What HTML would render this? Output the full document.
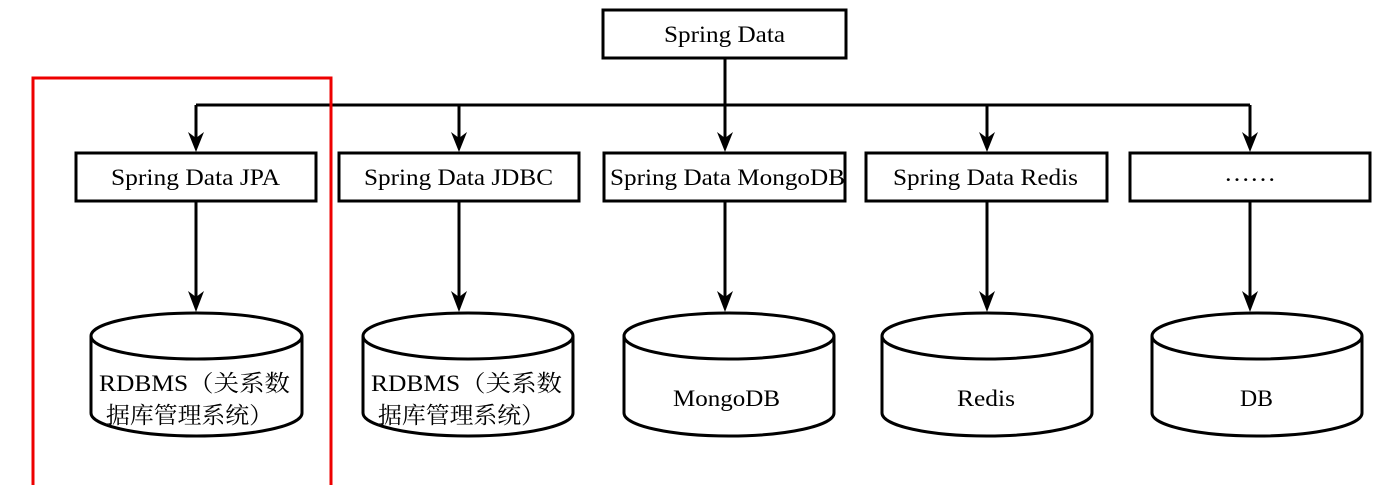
<!DOCTYPE html>
<html><head><meta charset="utf-8"><style>
html,body{margin:0;padding:0;background:#fff;}
svg{display:block;}
text{font-family:"Liberation Serif","Noto Serif CJK SC",serif;font-size:23px;fill:#000;}
</style></head><body>
<svg width="1389" height="485" viewBox="0 0 1389 485" xmlns="http://www.w3.org/2000/svg">
<g stroke="#000" stroke-width="3" fill="none">
<rect x="603" y="10" width="243" height="48" fill="#fff"/>
<path d="M725,58 V105 M196,105 H1250"/>
<path d="M196,105 V140 M459,105 V140 M725,105 V140 M987,105 V140 M1250,105 V140"/>
<rect x="76" y="153" width="240" height="48"/>
<rect x="339" y="153" width="240" height="48"/>
<rect x="604" y="153" width="241" height="48"/>
<rect x="866" y="153" width="241" height="48"/>
<rect x="1130" y="153" width="240" height="48"/>
<path d="M196,201 V298 M459,201 V298 M725,201 V298 M987,201 V298 M1250,201 V298"/>
</g>
<g fill="#000">
<path d="M188,132 L196,152 L204,132 L196,138 Z"/>
<path d="M451,132 L459,152 L467,132 L459,138 Z"/>
<path d="M717,132 L725,152 L733,132 L725,138 Z"/>
<path d="M979,132 L987,152 L995,132 L987,138 Z"/>
<path d="M1242,132 L1250,152 L1258,132 L1250,138 Z"/>
<path d="M188,291 L196,312 L204,291 L196,297 Z"/>
<path d="M451,291 L459,312 L467,291 L459,297 Z"/>
<path d="M717,291 L725,312 L733,291 L725,297 Z"/>
<path d="M979,291 L987,312 L995,291 L987,297 Z"/>
<path d="M1242,291 L1250,312 L1258,291 L1250,297 Z"/>
</g>
<g stroke="#000" stroke-width="3" fill="#fff">
<path d="M91,336 A105.5,23 0 0 1 302,336 V413 A105.5,23 0 0 1 91,413 Z M91,336 A105.5,23 0 0 0 302,336"/>
<path d="M363,336 A105,23 0 0 1 573,336 V413 A105,23 0 0 1 363,413 Z M363,336 A105,23 0 0 0 573,336"/>
<path d="M624,336 A105,23 0 0 1 834,336 V413 A105,23 0 0 1 624,413 Z M624,336 A105,23 0 0 0 834,336"/>
<path d="M882,336 A105,23 0 0 1 1092,336 V413 A105,23 0 0 1 882,413 Z M882,336 A105,23 0 0 0 1092,336"/>
<path d="M1152,336 A105,23 0 0 1 1362,336 V413 A105,23 0 0 1 1152,413 Z M1152,336 A105,23 0 0 0 1362,336"/>
</g>
<path d="M33,485 V78 H331 V485" stroke="#e00" stroke-width="3" fill="none"/>
<g>
<text x="664" y="42" textLength="121" lengthAdjust="spacingAndGlyphs">Spring Data</text>
<text x="111" y="185" textLength="169" lengthAdjust="spacingAndGlyphs">Spring Data JPA</text>
<text x="364" y="185" textLength="189" lengthAdjust="spacingAndGlyphs">Spring Data JDBC</text>
<text x="610" y="185" textLength="235" lengthAdjust="spacingAndGlyphs">Spring Data MongoDB</text>
<text x="893" y="185" textLength="185" lengthAdjust="spacingAndGlyphs">Spring Data Redis</text>
<text x="1224" y="181" textLength="52" lengthAdjust="spacingAndGlyphs">……</text>
<text x="99" y="391" textLength="191" lengthAdjust="spacingAndGlyphs">RDBMS（关系数</text>
<text x="106" y="423" textLength="167" lengthAdjust="spacingAndGlyphs">据库管理系统）</text>
<text x="371" y="391" textLength="191" lengthAdjust="spacingAndGlyphs">RDBMS（关系数</text>
<text x="378" y="423" textLength="167" lengthAdjust="spacingAndGlyphs">据库管理系统）</text>
<text x="673" y="406" textLength="107" lengthAdjust="spacingAndGlyphs">MongoDB</text>
<text x="957" y="406" textLength="58" lengthAdjust="spacingAndGlyphs">Redis</text>
<text x="1240" y="406" textLength="33" lengthAdjust="spacingAndGlyphs">DB</text>
</g>
</svg>
</body></html>
